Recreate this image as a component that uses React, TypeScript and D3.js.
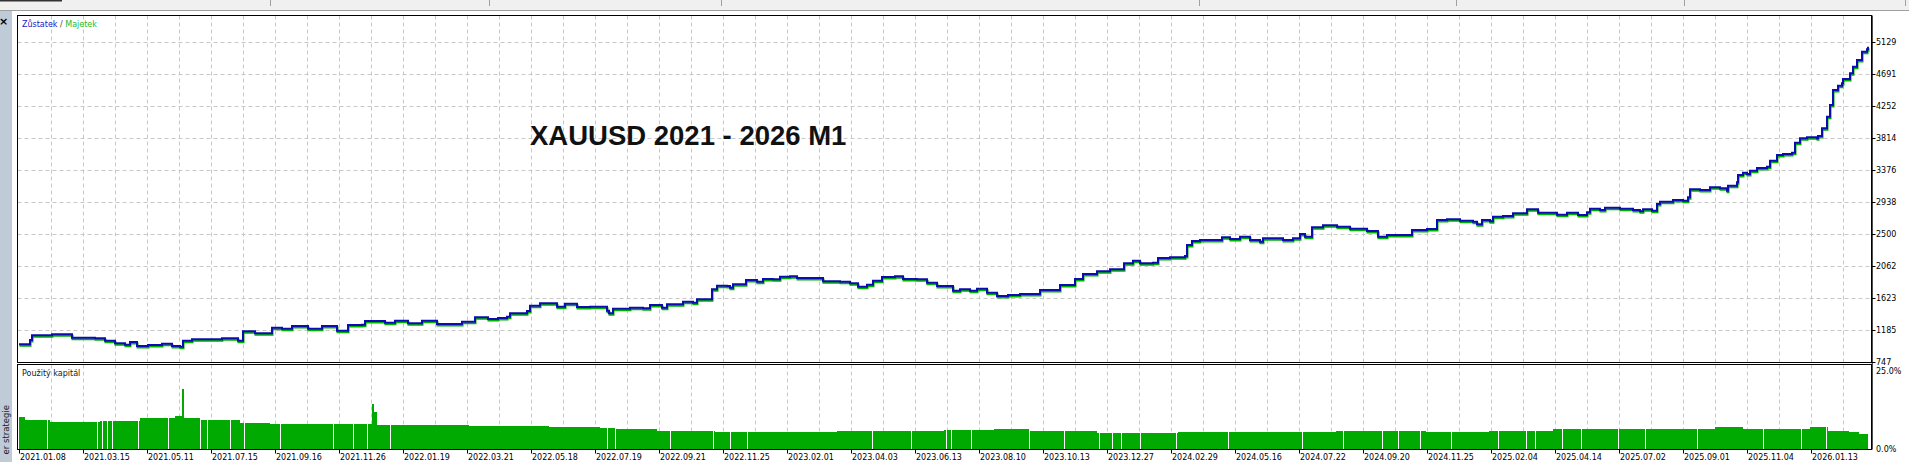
import React from 'react';
import * as d3 from 'd3';

// Balance curve: [trade #, balance]
const BALANCE: [number, number][] = [
  [0, 989], [11, 1048], [13, 1113], [33, 1126], [53, 1080], [76, 1072], [86, 1039], [96, 1003],
  [106, 984], [111, 1021], [118, 966], [129, 980], [143, 998], [153, 966], [161, 957], [164, 1039],
  [173, 1058], [196, 1058], [203, 1072], [219, 1039], [224, 1167], [236, 1140], [253, 1217],
  [263, 1203], [273, 1240], [289, 1203], [303, 1240], [318, 1176], [329, 1254], [343, 1258],
  [346, 1309], [366, 1285], [376, 1313], [389, 1277], [403, 1313], [418, 1267], [443, 1299],
  [456, 1359], [469, 1336], [479, 1350], [488, 1367], [491, 1414], [508, 1445], [511, 1518],
  [521, 1551], [538, 1504], [546, 1545], [558, 1500], [571, 1504], [588, 1450], [590, 1414],
  [594, 1477], [611, 1491], [624, 1482], [631, 1528], [643, 1491], [648, 1537], [658, 1537],
  [664, 1573], [674, 1559], [678, 1606], [688, 1606], [693, 1743], [698, 1792], [708, 1788],
  [711, 1764], [714, 1811], [724, 1811], [727, 1870], [738, 1847], [744, 1884], [754, 1880],
  [761, 1915], [771, 1921], [778, 1897], [794, 1897], [804, 1852], [821, 1847], [831, 1825],
  [839, 1778], [848, 1806], [854, 1860], [863, 1911], [876, 1921], [884, 1884], [898, 1880],
  [908, 1833], [918, 1788], [934, 1723], [941, 1743], [951, 1723], [958, 1751], [968, 1696],
  [978, 1651], [989, 1665], [1001, 1678], [1021, 1733], [1041, 1801], [1056, 1884], [1064, 1952],
  [1078, 1989], [1091, 2016], [1101, 2016], [1105, 2099], [1114, 2134], [1121, 2099], [1134, 2107],
  [1139, 2171], [1151, 2181], [1161, 2181], [1166, 2199], [1168, 2349], [1173, 2404], [1181, 2418],
  [1194, 2418], [1203, 2455], [1211, 2431], [1221, 2463], [1231, 2418], [1241, 2394], [1244, 2441],
  [1264, 2418], [1274, 2441], [1281, 2500], [1286, 2463], [1293, 2592], [1304, 2619], [1318, 2600],
  [1331, 2572], [1348, 2541], [1359, 2463], [1368, 2486], [1381, 2486], [1393, 2555], [1408, 2568],
  [1418, 2692], [1428, 2701], [1441, 2682], [1454, 2668], [1458, 2633], [1463, 2692], [1471, 2674],
  [1474, 2737], [1484, 2746], [1494, 2783], [1508, 2838], [1519, 2792], [1531, 2792], [1538, 2764],
  [1548, 2792], [1559, 2760], [1568, 2797], [1571, 2846], [1581, 2829], [1586, 2860], [1601, 2846],
  [1614, 2829], [1621, 2811], [1624, 2838], [1633, 2819], [1638, 2911], [1641, 2942], [1654, 2965],
  [1664, 2956], [1669, 3002], [1671, 3112], [1681, 3102], [1691, 3139], [1701, 3126], [1708, 3093],
  [1709, 3161], [1718, 3208], [1719, 3308], [1724, 3339], [1728, 3321], [1731, 3367], [1738, 3404],
  [1748, 3421], [1751, 3504], [1758, 3582], [1764, 3595], [1773, 3613], [1776, 3750], [1781, 3810],
  [1788, 3824], [1798, 3810], [1799, 3842], [1803, 3947], [1808, 4106], [1811, 4266], [1814, 4472],
  [1819, 4531], [1823, 4564], [1824, 4622], [1831, 4701], [1834, 4791], [1838, 4883], [1843, 4996],
  [1848, 5029], [1849, 5065],
];

// Used capital (%): [trade # where level starts, percent]
const CAPITAL: [number, number][] = [
  [0, 9.7], [6, 8.7], [31, 8.2], [81, 8.5], [121, 9.2], [156, 9.9], [163, 18], [165, 9.2],
  [181, 8.7], [221, 7.9], [251, 7.5], [311, 7.4], [353, 13.5], [355, 11], [358, 7.2], [450, 6.8],
  [530, 6.5], [581, 6.2], [596, 6.0], [638, 5.4], [696, 5.1], [818, 5.5], [849, 5.3], [925, 5.6],
  [975, 6.0], [1010, 5.4], [1078, 4.8], [1159, 5.1], [1208, 5.0], [1317, 5.3], [1407, 5.1],
  [1470, 5.4], [1534, 6.0], [1696, 6.7], [1724, 6.0], [1791, 6.5], [1809, 5.5], [1830, 5.0],
  [1840, 4.4],
];
const CAPITAL_END = 1849;
const CAPITAL_GAPS: number[] = [
  28, 78, 83, 88, 93, 119, 149, 181, 188, 211, 225, 261, 314, 334, 348, 371, 588, 596, 651, 694,
  711, 728, 853, 892, 927, 932, 952, 1010, 1045, 1080, 1093, 1102, 1121, 1157, 1209, 1283, 1324,
  1363, 1379, 1401, 1432, 1479, 1507, 1516, 1543, 1562, 1599, 1626, 1678, 1744, 1782, 1807,
];

const Y_TICKS = [747, 1185, 1623, 2062, 2500, 2938, 3376, 3814, 4252, 4691, 5129];
const PCT_TICKS: [number, string][] = [[25, '25.0%'], [0, '0.0%']];
const DATE_LABELS = [
  '2021.01.08', '2021.03.15', '2021.05.11', '2021.07.15', '2021.09.16', '2021.11.26', '2022.01.19',
  '2022.03.21', '2022.05.18', '2022.07.19', '2022.09.21', '2022.11.25', '2023.02.01', '2023.04.03',
  '2023.06.13', '2023.08.10', '2023.10.13', '2023.12.27', '2024.02.29', '2024.05.16', '2024.07.22',
  '2024.09.20', '2024.11.25', '2025.02.04', '2025.04.14', '2025.07.02', '2025.09.01', '2025.11.04',
  '2026.01.13',
];
const TRADE_MAX = 1852;
const LABEL_STEP = 64;
const GRID_STEP = 32;
const TITLE = 'XAUUSD 2021 - 2026 M1';

const W = 1909;
const H = 462;
const FRAME_L = 17.5;
const FRAME_R = 1871.5;
const MAIN_T = 15.5;
const MAIN_B = 362.5;
const SUB_T = 364.5;
const SUB_B = 449.5;
const FONT = "'DejaVu Sans', sans-serif";

export default function App() {
  const x = d3.scaleLinear().domain([0, TRADE_MAX]).range([19, 1871]);
  const y = d3.scaleLinear().domain([747, 5129]).range([362, 42]);
  const p = d3.scaleLinear().domain([0, 25]).range([449, 366]);

  const line = d3
    .line<[number, number]>()
    .x((d) => x(d[0]))
    .y((d) => y(d[1]))
    .curve(d3.curveStepAfter);
  const path = line(BALANCE) || '';

  const gridTrades = d3.range(GRID_STEP, TRADE_MAX, GRID_STEP);
  const labelTrades = DATE_LABELS.map((_, i) => i * LABEL_STEP);

  const topDividers = [270, 489, 721, 1199, 1456, 1684, 1905];

  return (
    <svg
      width={W}
      height={H}
      style={{ position: 'fixed', left: 0, top: 0, display: 'block', background: '#fff' }}
      fontFamily={FONT}
    >
      {/* window chrome */}
      <rect x={0} y={0} width={W} height={10} fill="#F0F0F0" />
      <rect x={0} y={0} width={62} height={1.5} fill="#333" />
      {topDividers.map((d) => (
        <line key={d} x1={d + 0.5} x2={d + 0.5} y1={0} y2={6} stroke="#A0A0A0" />
      ))}
      <line x1={0} x2={W} y1={10.5} y2={10.5} stroke="#A0A0A0" />
      <rect x={0} y={11} width={12} height={H - 11} fill="#BFCBD7" />
      <text x={3.5} y={25} fontSize={11} fontWeight="bold" textAnchor="middle" fill="#000" fontFamily={FONT}>
        ×
      </text>
      <text
        transform="translate(8.5,405) rotate(-90)"
        fontSize={8.5}
        textAnchor="end"
        fill="#222"
      >
        er strategie
      </text>

      {/* main panel grid */}
      {Y_TICKS.slice(1).map((v) => (
        <line
          key={'h' + v}
          x1={FRAME_L}
          x2={FRAME_R}
          y1={Math.round(y(v)) + 0.5}
          y2={Math.round(y(v)) + 0.5}
          stroke="#C8C8C8"
          strokeDasharray="4 3"
        />
      ))}
      {gridTrades.map((t) => (
        <g key={'v' + t}>
          <line
            x1={Math.round(x(t)) + 0.5}
            x2={Math.round(x(t)) + 0.5}
            y1={MAIN_T}
            y2={MAIN_B}
            stroke="#C8C8C8"
            strokeDasharray="4 3"
          />
          <line
            x1={Math.round(x(t)) + 0.5}
            x2={Math.round(x(t)) + 0.5}
            y1={SUB_T}
            y2={SUB_B}
            stroke="#C8C8C8"
            strokeDasharray="4 3"
          />
        </g>
      ))}

      {/* title */}
      <text x={530} y={145} fontSize={27.5} fontWeight="bold" fill="#111" fontFamily="'Liberation Sans', Arial, sans-serif">
        {TITLE}
      </text>

      {/* legend */}
      <text x={22} y={27} fontSize={8}>
        <tspan fill="#1818C8">Zůstatek</tspan>
        <tspan fill="#703838"> / </tspan>
        <tspan fill="#28B828">Majetek</tspan>
      </text>

      {/* equity (green) and balance (blue) */}
      <path d={path} fill="none" stroke="#00B000" strokeWidth={2} transform="translate(0.5,1.5)" />
      <path d={path} fill="none" stroke="#0C0CB0" strokeWidth={2} />

      {/* capital bars */}
      {CAPITAL.map((c, i) => {
        const x0 = x(c[0]);
        const x1 = x(i + 1 < CAPITAL.length ? CAPITAL[i + 1][0] : CAPITAL_END);
        return (
          <rect
            key={'b' + i}
            x={x0}
            y={p(c[1])}
            width={Math.max(1, x1 - x0)}
            height={p(0) - p(c[1])}
            fill="#00AA00"
            shapeRendering="crispEdges"
          />
        );
      })}
      {CAPITAL_GAPS.map((g) => (
        <rect
          key={'g' + g}
          x={Math.round(x(g))}
          y={SUB_T}
          width={1}
          height={p(0) - SUB_T}
          fill="#fff"
          shapeRendering="crispEdges"
        />
      ))}
      <text x={22} y={376} fontSize={8} fill="#202020">
        Použitý kapitál
      </text>

      {/* frames */}
      <rect x={FRAME_L} y={MAIN_T} width={FRAME_R - FRAME_L} height={MAIN_B - MAIN_T} fill="none" stroke="#000" strokeWidth={1} />
      <rect x={FRAME_L} y={SUB_T} width={FRAME_R - FRAME_L} height={SUB_B - SUB_T} fill="none" stroke="#000" strokeWidth={1} />
      <line x1={FRAME_R + 0.7} x2={FRAME_R + 0.7} y1={MAIN_T} y2={SUB_B} stroke="#000" strokeWidth={1} />

      {/* right axis */}
      {Y_TICKS.map((v) => (
        <g key={'yt' + v}>
          <line x1={FRAME_R} x2={FRAME_R + 4} y1={Math.round(y(v)) + 0.5} y2={Math.round(y(v)) + 0.5} stroke="#000" />
          <text x={1876} y={y(v) + 3} fontSize={8} fill="#000">
            {v}
          </text>
        </g>
      ))}
      {PCT_TICKS.map(([v, s]) => (
        <text key={s} x={1876} y={(v === 25 ? 371 : p(v)) + 3} fontSize={8} fill="#000">
          {s}
        </text>
      ))}

      {/* date axis */}
      {labelTrades.map((t, i) => (
        <g key={'d' + i}>
          <line x1={Math.round(x(t)) + 0.5} x2={Math.round(x(t)) + 0.5} y1={SUB_B} y2={SUB_B + 4} stroke="#000" />
          <text x={x(t) + 1} y={460} fontSize={8} fill="#000">
            {DATE_LABELS[i]}
          </text>
        </g>
      ))}
    </svg>
  );
}
